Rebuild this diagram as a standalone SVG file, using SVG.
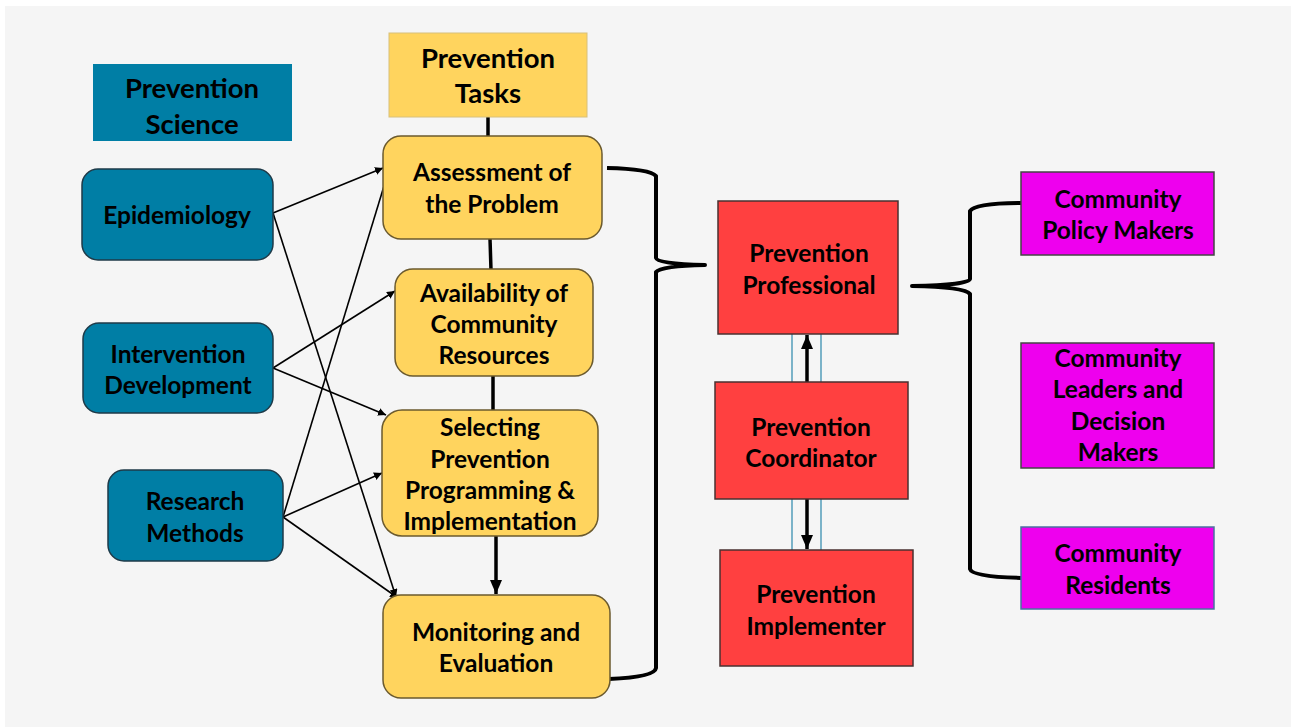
<svg xmlns="http://www.w3.org/2000/svg" width="1295" height="727" viewBox="0 0 1295 727">
<defs>
<style>
.t{font-family:Lato,"Open Sans","Liberation Sans",sans-serif;font-weight:bold;font-size:24.5px;fill:#000;text-anchor:middle}
.h{font-size:27.5px}
.blue{fill:#007ea5;stroke:#1e3a48;stroke-width:1.5}
.yel{fill:#ffd45e;stroke:#6b5a2e;stroke-width:1.5}
.red{fill:#ff4040;stroke:#4a3030;stroke-width:1.5}
.mag{fill:#ee00ee;stroke:#444;stroke-width:1.5}
.thin{stroke:#000;stroke-width:1.6;fill:none}
.thick{stroke:#000;stroke-width:3.5;fill:none}
.brace{stroke:#000;stroke-width:4;fill:none;stroke-linejoin:round}
.guide{stroke:#3a8fb0;stroke-width:1.3}
</style>
<marker id="ah" viewBox="0 0 10 10" refX="10" refY="5" markerWidth="8" markerHeight="8" markerUnits="userSpaceOnUse" orient="auto"><path d="M0,0 L10,5 L0,10 z" fill="#000"/></marker>
<marker id="ahb" viewBox="0 0 10 10" refX="10" refY="5" markerWidth="14" markerHeight="12" markerUnits="userSpaceOnUse" orient="auto" preserveAspectRatio="none"><path d="M0,0 L10,5 L0,10 z" fill="#000"/></marker>
</defs>
<rect x="0" y="0" width="1295" height="727" fill="#ffffff"/>
<rect x="5" y="6" width="1286" height="721" fill="#f5f5f5"/>

<g id="connectors">
<line class="thick" x1="488" y1="117" x2="488" y2="137"/>
<line class="thick" x1="490" y1="239" x2="491" y2="270"/>
<line class="thick" x1="493" y1="376" x2="493" y2="411"/>
<line class="thick" x1="496" y1="536" x2="496" y2="594" marker-end="url(#ahb)"/>
<line class="thin" x1="273" y1="213" x2="383" y2="168" marker-end="url(#ah)"/>
<line class="thin" x1="273" y1="213" x2="396" y2="597" marker-end="url(#ah)"/>
<line class="thin" x1="273" y1="368" x2="395" y2="291" marker-end="url(#ah)"/>
<line class="thin" x1="273" y1="368" x2="386" y2="415" marker-end="url(#ah)"/>
<line class="thin" x1="283" y1="517" x2="384" y2="186"/>
<line class="thin" x1="283" y1="517" x2="382" y2="473" marker-end="url(#ah)"/>
<line class="thin" x1="283" y1="517" x2="398" y2="598" marker-end="url(#ah)"/>
<line class="guide" x1="792" y1="334" x2="792" y2="382"/>
<line class="guide" x1="821" y1="334" x2="821" y2="382"/>
<line class="guide" x1="792" y1="499" x2="792" y2="550"/>
<line class="guide" x1="821" y1="499" x2="821" y2="550"/>
<line class="thick" x1="807" y1="382" x2="807" y2="335" marker-end="url(#ahb)"/>
<line class="thick" x1="807" y1="499" x2="807" y2="549" marker-end="url(#ahb)"/>
<path class="brace" d="M607,168 Q650,169 656,176 L656,258 Q657,264 705,265 Q661,266 656,272 L656,668 Q655,677 609,679"/>
<path class="brace" d="M1025,203 Q975,203 970,211 L970,279 Q969,285 912,286 Q965,287 970,294 L970,569 Q972,577 1025,578"/>
</g>

<g id="prevention-science"><rect x="93" y="64" width="199" height="77" fill="#007ea5"/>
<text class="t h" x="192" y="98">Prevention</text><text class="t h" x="192" y="134">Science</text></g>
<g id="prevention-tasks"><rect x="389" y="33" width="198" height="84" fill="#ffd45e" stroke="#d8c07a" stroke-width="1"/>
<text class="t h" x="488" y="68">Prevention</text><text class="t h" x="488" y="103">Tasks</text></g>

<g id="epidemiology"><rect class="blue" x="82" y="169" width="191" height="91" rx="16"/>
<text class="t" x="177" y="224">Epidemiology</text></g>
<g id="intervention-development"><rect class="blue" x="83" y="323" width="190" height="90" rx="16"/>
<text class="t" x="178" y="363">Intervention</text><text class="t" x="178" y="394">Development</text></g>
<g id="research-methods"><rect class="blue" x="108" y="470" width="175" height="91" rx="16"/>
<text class="t" x="195" y="510">Research</text><text class="t" x="195" y="542">Methods</text></g>

<g id="assessment"><rect class="yel" x="383" y="136" width="219" height="103" rx="18"/>
<text class="t" x="492" y="181">Assessment of</text><text class="t" x="492" y="213">the Problem</text></g>
<g id="availability"><rect class="yel" x="395" y="269" width="198" height="107" rx="18"/>
<text class="t" x="494" y="302">Availability of</text><text class="t" x="494" y="333">Community</text><text class="t" x="494" y="364">Resources</text></g>
<g id="selecting"><rect class="yel" x="382" y="410" width="216" height="126" rx="20"/>
<text class="t" x="490" y="436">Selecting</text><text class="t" x="490" y="468">Prevention</text><text class="t" x="490" y="499">Programming &amp;</text><text class="t" x="490" y="530">Implementation</text></g>
<g id="monitoring"><rect class="yel" x="383" y="595" width="227" height="103" rx="18"/>
<text class="t" x="496" y="641">Monitoring and</text><text class="t" x="496" y="672">Evaluation</text></g>

<g id="professional"><rect class="red" x="718" y="201" width="180" height="133"/>
<text class="t" x="809" y="262">Prevention</text><text class="t" x="809" y="294">Professional</text></g>
<g id="coordinator"><rect class="red" x="715" y="382" width="193" height="117"/>
<text class="t" x="811" y="436">Prevention</text><text class="t" x="811" y="467">Coordinator</text></g>
<g id="implementer"><rect class="red" x="720" y="550" width="193" height="116"/>
<text class="t" x="816" y="603">Prevention</text><text class="t" x="816" y="635">Implementer</text></g>

<g id="policy-makers"><rect class="mag" x="1021" y="172" width="193" height="83"/>
<text class="t" x="1118" y="208">Community</text><text class="t" x="1118" y="239">Policy Makers</text></g>
<g id="leaders"><rect class="mag" x="1021" y="343" width="193" height="125"/>
<text class="t" x="1118" y="367">Community</text><text class="t" x="1118" y="398">Leaders and</text><text class="t" x="1118" y="430">Decision</text><text class="t" x="1118" y="461">Makers</text></g>
<g id="residents"><rect class="mag" x="1021" y="527" width="193" height="82" style="stroke:#4a70a0"/>
<text class="t" x="1118" y="562">Community</text><text class="t" x="1118" y="594">Residents</text></g>
</svg>
